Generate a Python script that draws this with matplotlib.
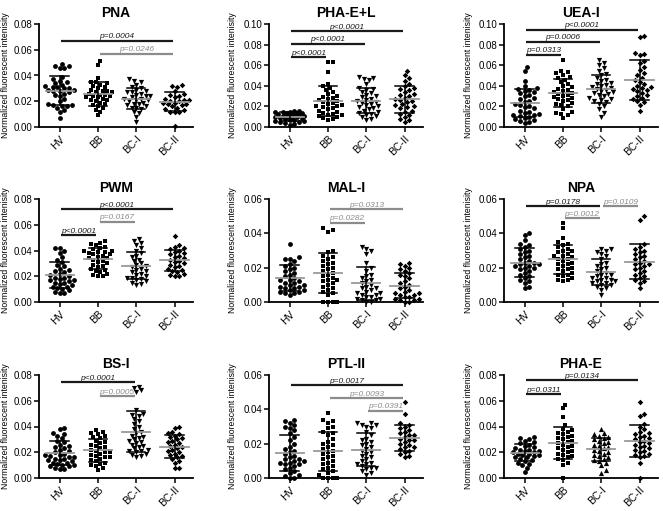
import numpy as np
import matplotlib
matplotlib.use('Agg')
import matplotlib.pyplot as plt

plt.rcParams['font.family'] = ['Liberation Sans', 'DejaVu Sans']

groups = ['HV', 'BB', 'BC-I', 'BC-II']

# ---------------- data ----------------
pna_hv = [0.049,0.047,0.047,0.046,0.046,0.039,0.037,0.036,0.035,0.034,0.033,0.032,0.031,0.031,0.030,0.030,0.029,0.029,0.028,0.028,0.027,0.026,0.025,0.024,0.022,0.020,0.018,0.017,0.017,0.016,0.016,0.015,0.013,0.012,0.007]
pna_bb = [0.051,0.048,0.038,0.035,0.035,0.034,0.033,0.032,0.031,0.030,0.029,0.028,0.028,0.027,0.027,0.026,0.025,0.025,0.024,0.024,0.023,0.023,0.022,0.021,0.021,0.020,0.019,0.018,0.017,0.016,0.015,0.013,0.012,0.009]
pna_bc1 = [0.037,0.036,0.035,0.033,0.031,0.030,0.029,0.028,0.027,0.027,0.026,0.025,0.024,0.024,0.023,0.022,0.022,0.021,0.021,0.020,0.019,0.018,0.018,0.017,0.016,0.015,0.015,0.014,0.012,0.011,0.008,0.004]
pna_bc2 = [0.033,0.032,0.031,0.028,0.026,0.025,0.024,0.023,0.022,0.021,0.021,0.020,0.020,0.019,0.019,0.018,0.018,0.017,0.016,0.015,0.014,0.013,0.012,0.012,0.012,0.001]

phael_hv = [0.016,0.016,0.015,0.015,0.015,0.014,0.014,0.014,0.013,0.013,0.013,0.012,0.012,0.012,0.011,0.011,0.010,0.010,0.010,0.009,0.009,0.008,0.008,0.007,0.007,0.006,0.006,0.005,0.005,0.004,0.003,0.002]
phael_bb = [0.063,0.063,0.053,0.042,0.040,0.038,0.036,0.034,0.032,0.030,0.029,0.028,0.027,0.026,0.025,0.024,0.023,0.022,0.021,0.020,0.020,0.019,0.018,0.017,0.016,0.015,0.014,0.013,0.012,0.012,0.011,0.010,0.009,0.008,0.007]
phael_bc1 = [0.049,0.048,0.047,0.046,0.042,0.038,0.037,0.036,0.034,0.033,0.031,0.030,0.029,0.027,0.026,0.025,0.024,0.023,0.022,0.021,0.020,0.019,0.018,0.017,0.016,0.015,0.014,0.013,0.012,0.011,0.010,0.008,0.007]
phael_bc2 = [0.054,0.050,0.048,0.045,0.042,0.040,0.038,0.037,0.036,0.034,0.032,0.031,0.030,0.028,0.027,0.026,0.025,0.024,0.022,0.021,0.020,0.019,0.018,0.016,0.015,0.013,0.012,0.010,0.008,0.007,0.005]

uea_hv = [0.058,0.054,0.045,0.040,0.038,0.037,0.036,0.035,0.034,0.033,0.031,0.030,0.028,0.027,0.025,0.024,0.022,0.021,0.020,0.019,0.018,0.016,0.015,0.014,0.013,0.012,0.012,0.011,0.010,0.009,0.008,0.007,0.006,0.005,0.004]
uea_bb = [0.065,0.054,0.053,0.052,0.050,0.049,0.048,0.046,0.044,0.042,0.040,0.039,0.037,0.036,0.035,0.034,0.033,0.032,0.031,0.030,0.029,0.028,0.027,0.026,0.025,0.023,0.022,0.021,0.020,0.017,0.015,0.014,0.013,0.012,0.009]
uea_bc1 = [0.065,0.062,0.060,0.057,0.054,0.051,0.050,0.048,0.046,0.045,0.043,0.042,0.041,0.040,0.039,0.038,0.037,0.036,0.035,0.034,0.033,0.032,0.031,0.030,0.028,0.027,0.026,0.025,0.024,0.022,0.020,0.017,0.014,0.010]
uea_bc2 = [0.088,0.087,0.072,0.071,0.070,0.064,0.062,0.058,0.055,0.052,0.050,0.048,0.046,0.044,0.042,0.040,0.039,0.038,0.037,0.036,0.035,0.033,0.031,0.030,0.028,0.027,0.025,0.024,0.021,0.016]

pwm_hv = [0.042,0.042,0.040,0.038,0.035,0.033,0.031,0.029,0.028,0.026,0.025,0.024,0.023,0.022,0.021,0.020,0.019,0.019,0.018,0.017,0.017,0.016,0.015,0.015,0.014,0.013,0.012,0.012,0.011,0.010,0.009,0.008,0.007,0.007]
pwm_bb = [0.047,0.046,0.045,0.044,0.043,0.042,0.041,0.040,0.040,0.039,0.039,0.038,0.037,0.037,0.036,0.035,0.034,0.034,0.033,0.032,0.031,0.030,0.029,0.028,0.027,0.026,0.025,0.024,0.023,0.022,0.021,0.020,0.020]
pwm_bc1 = [0.049,0.047,0.046,0.044,0.042,0.040,0.038,0.036,0.035,0.033,0.032,0.030,0.029,0.028,0.027,0.026,0.025,0.024,0.023,0.022,0.021,0.020,0.019,0.019,0.018,0.017,0.016,0.015,0.014,0.013]
pwm_bc2 = [0.051,0.044,0.043,0.042,0.041,0.040,0.039,0.038,0.037,0.036,0.035,0.034,0.033,0.032,0.031,0.030,0.029,0.028,0.027,0.026,0.025,0.024,0.023,0.022,0.021,0.020,0.020]

mal_hv = [0.034,0.026,0.025,0.025,0.024,0.022,0.021,0.020,0.019,0.018,0.017,0.016,0.015,0.014,0.013,0.013,0.012,0.011,0.011,0.010,0.010,0.009,0.009,0.008,0.008,0.007,0.007,0.006,0.006,0.005,0.005,0.004]
mal_bb = [0.043,0.042,0.041,0.030,0.029,0.027,0.026,0.025,0.024,0.023,0.022,0.021,0.020,0.019,0.018,0.017,0.016,0.015,0.014,0.013,0.013,0.012,0.011,0.010,0.009,0.008,0.007,0.006,0.005,0.004,0.0,0.0,0.0,0.0]
mal_bc1 = [0.032,0.031,0.030,0.028,0.023,0.020,0.018,0.016,0.015,0.014,0.013,0.012,0.011,0.010,0.009,0.008,0.008,0.007,0.006,0.005,0.005,0.004,0.004,0.003,0.003,0.002,0.002,0.001,0.001,0.0,0.0]
mal_bc2 = [0.023,0.022,0.021,0.020,0.019,0.018,0.017,0.016,0.015,0.014,0.012,0.011,0.010,0.009,0.008,0.007,0.006,0.005,0.005,0.004,0.004,0.003,0.003,0.002,0.002,0.001,0.001,0.0,0.0]

npa_hv = [0.040,0.039,0.036,0.034,0.033,0.032,0.031,0.030,0.029,0.028,0.027,0.026,0.025,0.024,0.023,0.023,0.022,0.022,0.021,0.021,0.020,0.020,0.019,0.018,0.017,0.016,0.015,0.014,0.013,0.012,0.011,0.009,0.008]
npa_bb = [0.046,0.043,0.037,0.035,0.034,0.033,0.032,0.031,0.030,0.030,0.029,0.028,0.027,0.027,0.026,0.025,0.025,0.024,0.023,0.022,0.022,0.021,0.020,0.019,0.019,0.018,0.017,0.016,0.016,0.015,0.014,0.013,0.013,0.012]
npa_bc1 = [0.031,0.031,0.030,0.029,0.028,0.027,0.025,0.023,0.022,0.021,0.020,0.019,0.018,0.017,0.016,0.016,0.015,0.014,0.014,0.013,0.013,0.012,0.012,0.011,0.011,0.010,0.010,0.009,0.008,0.007,0.004]
npa_bc2 = [0.050,0.048,0.034,0.032,0.031,0.030,0.029,0.028,0.027,0.026,0.025,0.024,0.023,0.022,0.022,0.021,0.020,0.019,0.018,0.017,0.016,0.015,0.014,0.013,0.012,0.011,0.008]

bs_hv = [0.039,0.038,0.035,0.034,0.033,0.031,0.029,0.028,0.026,0.025,0.024,0.023,0.022,0.021,0.020,0.019,0.018,0.018,0.017,0.016,0.016,0.015,0.015,0.014,0.014,0.013,0.012,0.012,0.011,0.010,0.010,0.009,0.009,0.008,0.007,0.007]
bs_bb = [0.037,0.036,0.035,0.034,0.033,0.032,0.031,0.029,0.028,0.027,0.026,0.025,0.024,0.023,0.022,0.021,0.020,0.020,0.019,0.018,0.017,0.016,0.016,0.015,0.014,0.013,0.012,0.011,0.010,0.009,0.008,0.006]
bs_bc1 = [0.071,0.070,0.068,0.067,0.053,0.050,0.049,0.048,0.046,0.044,0.042,0.040,0.038,0.036,0.035,0.033,0.032,0.031,0.030,0.029,0.028,0.027,0.026,0.025,0.024,0.023,0.022,0.021,0.021,0.020,0.019,0.018,0.017,0.016]
bs_bc2 = [0.040,0.039,0.036,0.035,0.034,0.033,0.032,0.031,0.030,0.029,0.028,0.027,0.026,0.025,0.024,0.023,0.022,0.021,0.020,0.019,0.018,0.017,0.016,0.015,0.013,0.012,0.008,0.008]

ptl_hv = [0.034,0.033,0.032,0.031,0.030,0.029,0.028,0.026,0.024,0.022,0.020,0.018,0.017,0.016,0.015,0.014,0.013,0.012,0.011,0.011,0.010,0.010,0.009,0.009,0.008,0.008,0.007,0.006,0.005,0.004,0.003,0.002,0.001,0.0,0.0]
ptl_bb = [0.038,0.034,0.033,0.032,0.030,0.029,0.027,0.026,0.025,0.023,0.021,0.020,0.019,0.018,0.017,0.016,0.015,0.014,0.013,0.012,0.011,0.010,0.009,0.008,0.007,0.006,0.005,0.004,0.003,0.002,0.0,0.0,0.0,0.0]
ptl_bc1 = [0.032,0.032,0.031,0.031,0.030,0.029,0.027,0.025,0.023,0.022,0.021,0.020,0.019,0.018,0.017,0.016,0.015,0.014,0.013,0.012,0.011,0.010,0.009,0.008,0.008,0.007,0.006,0.006,0.005,0.004,0.003,0.002]
ptl_bc2 = [0.044,0.037,0.032,0.031,0.030,0.029,0.028,0.027,0.026,0.025,0.025,0.024,0.023,0.022,0.022,0.021,0.020,0.019,0.018,0.018,0.017,0.016,0.015,0.014,0.013,0.012]

phae_hv = [0.032,0.031,0.030,0.029,0.028,0.027,0.026,0.025,0.024,0.023,0.022,0.022,0.021,0.021,0.020,0.020,0.019,0.019,0.018,0.018,0.017,0.016,0.016,0.015,0.014,0.013,0.012,0.011,0.010,0.008,0.005]
phae_bb = [0.057,0.054,0.047,0.041,0.038,0.037,0.036,0.035,0.034,0.033,0.032,0.031,0.030,0.029,0.028,0.027,0.026,0.025,0.024,0.023,0.022,0.021,0.020,0.019,0.018,0.017,0.016,0.015,0.014,0.012,0.010,0.0]
phae_bc1 = [0.038,0.035,0.034,0.033,0.032,0.031,0.030,0.029,0.028,0.027,0.026,0.025,0.024,0.023,0.022,0.021,0.020,0.019,0.018,0.017,0.016,0.015,0.014,0.013,0.012,0.010,0.006,0.004]
phae_bc2 = [0.059,0.050,0.048,0.042,0.040,0.038,0.036,0.035,0.034,0.033,0.032,0.031,0.030,0.029,0.028,0.027,0.026,0.025,0.024,0.023,0.022,0.021,0.020,0.019,0.018,0.017,0.016,0.012,0.0]

# significance brackets: (group_from, group_to, y, label, dark?)
pna_sig = [(0, 3, 0.067, 'p=0.0004', True), (1, 3, 0.057, 'p=0.0246', False)]
phael_sig = [(0, 3, 0.093, 'p<0.0001', True), (0, 2, 0.081, 'p<0.0001', True), (0, 1, 0.068, 'p<0.0001', True)]
uea_sig = [(0, 3, 0.0945, 'p<0.0001', True), (0, 2, 0.083, 'p=0.0006', True), (0, 1, 0.0703, 'p=0.0313', True)]
pwm_sig = [(0, 3, 0.0722, 'p<0.0001', True), (1, 2, 0.0625, 'p=0.0167', False), (0, 1, 0.052, 'p<0.0001', True)]
mal_sig = [(1, 3, 0.0541, 'p=0.0313', False), (1, 2, 0.0462, 'p=0.0282', False)]
npa_sig = [(0, 2, 0.0559, 'p=0.0178', True), (2, 3, 0.0559, 'p=0.0109', False), (1, 2, 0.0488, 'p=0.0012', False)]
bs_sig = [(0, 2, 0.0746, 'p<0.0001', True), (1, 2, 0.0637, 'p=0.0005', False)]
ptl_sig = [(0, 3, 0.054, 'p=0.0017', True), (1, 3, 0.0465, 'p=0.0093', False), (2, 3, 0.0391, 'p=0.0391', False)]
phae_sig = [(0, 3, 0.076, 'p=0.0134', True), (0, 1, 0.0653, 'p=0.0311', True)]

titles = ['PNA', 'PHA-E+L', 'UEA-I', 'PWM', 'MAL-I', 'NPA', 'BS-I', 'PTL-II', 'PHA-E']
ymaxes = [0.08, 0.10, 0.10, 0.08, 0.06, 0.06, 0.08, 0.06, 0.08]
datas = [[pna_hv, pna_bb, pna_bc1, pna_bc2],
         [phael_hv, phael_bb, phael_bc1, phael_bc2],
         [uea_hv, uea_bb, uea_bc1, uea_bc2],
         [pwm_hv, pwm_bb, pwm_bc1, pwm_bc2],
         [mal_hv, mal_bb, mal_bc1, mal_bc2],
         [npa_hv, npa_bb, npa_bc1, npa_bc2],
         [bs_hv, bs_bb, bs_bc1, bs_bc2],
         [ptl_hv, ptl_bb, ptl_bc1, ptl_bc2],
         [phae_hv, phae_bb, phae_bc1, phae_bc2]]
sigs = [pna_sig, phael_sig, uea_sig, pwm_sig, mal_sig, npa_sig, bs_sig, ptl_sig, phae_sig]

# ---------------- layout ----------------
W, H = 663, 511
fig = plt.figure(figsize=(W / 100, H / 100), dpi=100)
col_left = [39, 269, 504]
row_top = [24, 199, 375]
ax_w, ax_h = 154, 103
ylab_off = [-29, -32, -31]
XLIM = (-0.54, 3.48)

markers = ['o', 's', 'v', 'D']
msizes = [12, 11, 14, 8]


def swarm(vals, xscale, yscale, d=4.3):
    vals = np.asarray(vals, dtype=float)
    order = np.argsort(vals)
    cand = [0.0]
    step = d * 0.55
    for k in range(1, 7):
        cand += [k * step, -k * step]
    px, py = [], []
    offs = np.zeros(len(vals))
    for i in order:
        y = vals[i] * yscale
        best, bestd = None, -1
        for c in cand:
            if px:
                dmin = np.min((np.array(px) - c) ** 2 + (np.array(py) - y) ** 2)
            else:
                dmin = 1e9
            if dmin >= d * d:
                best = c
                break
            if dmin > bestd:
                bestd, best = dmin, c
        px.append(best)
        py.append(y)
        offs[i] = best / xscale
    return offs


dark = '#1a1a1a'
grey = '#8c8c8c'

for idx in range(9):
    r, c = divmod(idx, 3)
    l = col_left[c]
    t = row_top[r]
    ax = fig.add_axes([l / W, 1 - (t + ax_h) / H, ax_w / W, ax_h / H])
    ymax = ymaxes[idx]
    ax.set_xlim(*XLIM)
    ax.set_ylim(0, ymax)
    xscale = ax_w / (XLIM[1] - XLIM[0])
    yscale = ax_h / ymax
    for g, vals in enumerate(datas[idx]):
        vals = np.asarray(vals)
        offs = swarm(vals, xscale, yscale)
        m = markers[g]
        if idx == 8 and g == 2:
            m = '^'
        ax.scatter(g + offs, vals, marker=m, s=msizes[g], c='black',
                   linewidths=0, clip_on=False, zorder=2)
        mean = vals.mean()
        sd = vals.std(ddof=1)
        ax.plot([g - 0.37, g + 0.37], [mean, mean], color='#999999', lw=1.3, zorder=3)
        ax.plot([g, g], [mean - sd, mean + sd], color='black', lw=1.1, zorder=3)
        for yy in (mean - sd, mean + sd):
            ax.plot([g - 0.24, g + 0.24], [yy, yy], color='black', lw=1.1, zorder=3)
    for (a, b, y, lab, isdark) in sigs[idx]:
        col = dark if isdark else grey
        ax.plot([a + 0.04, b - 0.04], [y, y], color=col, lw=1.6,
                solid_capstyle='butt', clip_on=False, zorder=4)
        ax.text((a + b) / 2, y + ymax * 0.004, lab, color=col, fontsize=6,
                style='italic', ha='center', va='bottom', zorder=4)
    ax.set_title(titles[idx], fontsize=10, fontweight='bold', pad=5)
    yt = np.round(np.arange(0, ymax + 1e-9, 0.02), 2)
    ax.set_yticks(yt)
    ax.set_yticklabels(['%.2f' % v for v in yt], fontsize=7)
    ax.set_xticks(range(4))
    ax.set_xticklabels(groups, fontsize=7.5, rotation=45, ha='right',
                       rotation_mode='anchor')
    for s in ('top', 'right'):
        ax.spines[s].set_visible(False)
    for s in ('left', 'bottom'):
        ax.spines[s].set_linewidth(1.3)
    ax.tick_params(axis='both', length=3.5, width=1.1, pad=1.5)
    ax.set_ylabel('Normalized fluorescent intenisity', fontsize=6.2)
    ax.yaxis.set_label_coords(ylab_off[c] / ax_w, 0.5)

fig.savefig('out.png', dpi=100)
